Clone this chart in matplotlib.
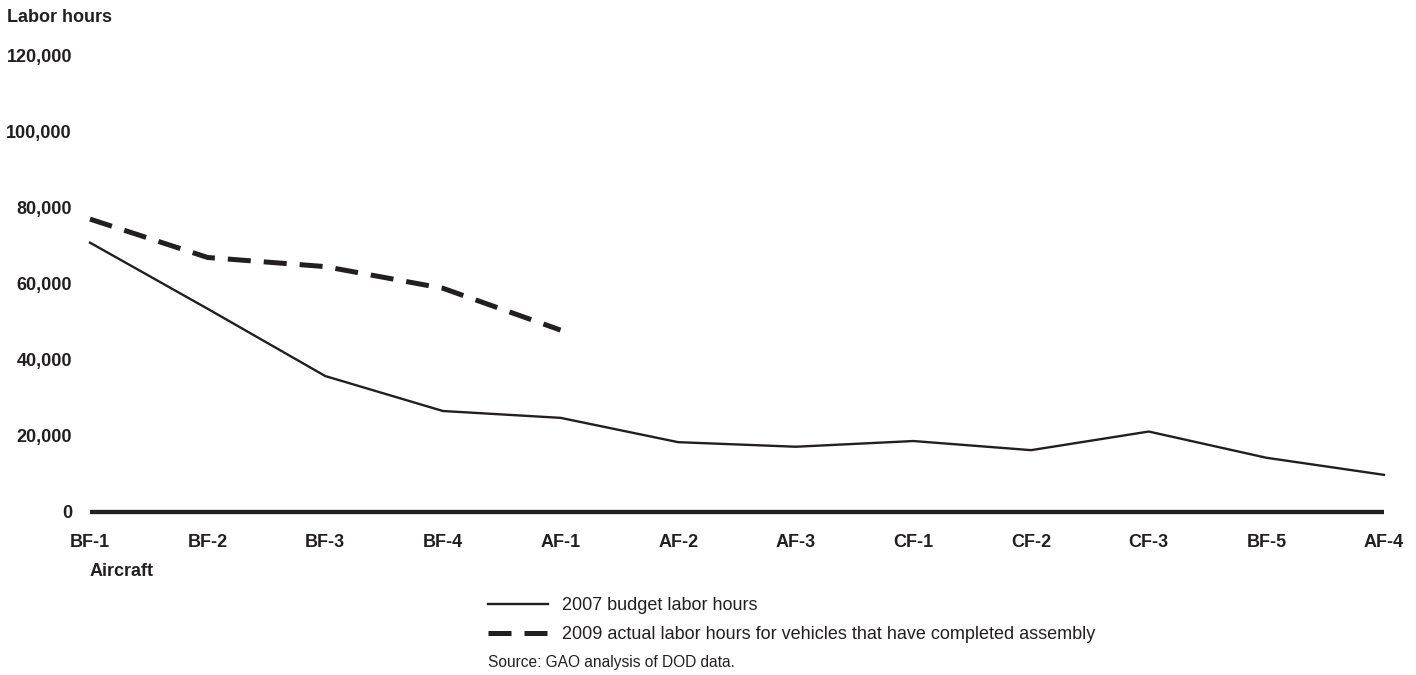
import matplotlib
matplotlib.use("Agg")
import matplotlib.pyplot as plt
from matplotlib.ticker import FuncFormatter

# values (labor hours)
aircraft = ['BF-1', 'BF-2', 'BF-3', 'BF-4', 'AF-1', 'AF-2', 'AF-3',
            'CF-1', 'CF-2', 'CF-3', 'BF-5', 'AF-4']
budget_2007 = [70800, 53400, 35700, 26500, 24700, 18300, 17100,
               18600, 16200, 21100, 14200, 9700]
actual_2009 = [77000, 66900, 64500, 58800, 47800]
y_ticks = [0, 20000, 40000, 60000, 80000, 100000, 120000]

INK = '#231f20'

plt.rcParams['font.family'] = ['Liberation Sans', 'DejaVu Sans']

fig = plt.figure(figsize=(14.16, 6.75), dpi=100)
ax = fig.add_axes([90 / 1416, 0.2419, (1384 - 90) / 1416, 0.6756])

x = list(range(len(aircraft)))
ax.plot(x, budget_2007, color=INK, lw=1.7, clip_on=False,
        solid_joinstyle='miter', label='2007 budget labor hours')
ax.plot(x[:len(actual_2009)], actual_2009, color=INK, lw=3.6,
        dashes=(4.6, 2.6), dash_capstyle='butt', clip_on=False,
        label='2009 actual labor hours for vehicles that have completed assembly')

ax.set_xlim(0, len(aircraft) - 1)
ax.set_ylim(0, 120000)

for side in ['top', 'right', 'left']:
    ax.spines[side].set_visible(False)
ax.spines['bottom'].set_linewidth(3.1)
ax.spines['bottom'].set_color(INK)
ax.spines['bottom'].set_capstyle('butt')

ax.set_xticks(x)
ax.set_xticklabels(aircraft, fontsize=13, fontweight='bold', color=INK)
ax.set_yticks(y_ticks)
ax.yaxis.set_major_formatter(FuncFormatter(lambda v, p: f'{int(v):,}'))
for lab in ax.get_yticklabels():
    lab.set_fontweight('bold')
ax.tick_params(axis='y', length=0, pad=13, labelsize=13, labelcolor=INK)
ax.tick_params(axis='x', length=0, pad=16, labelsize=13, labelcolor=INK)

fig.text(7 / 1416, 1 - 17 / 675, 'Labor hours', fontsize=13, fontweight='bold',
         color=INK, ha='left', va='center')
fig.text(90 / 1416, 1 - 572 / 675, 'Aircraft', fontsize=13, fontweight='bold',
         color=INK, ha='left', va='center')

leg = fig.legend(loc='upper left', bbox_to_anchor=(488 / 1416, 1 - 597 / 675),
                 frameon=False, fontsize=13, handlelength=3.33, handletextpad=0.78,
                 labelspacing=0.66, borderpad=0, borderaxespad=0)
for t in leg.get_texts():
    t.set_color(INK)

fig.text(488 / 1416, 1 - 662 / 675, 'Source: GAO analysis of DOD data.',
         fontsize=11.2, color=INK, ha='left', va='center')

fig.savefig('out.png', dpi=100)
